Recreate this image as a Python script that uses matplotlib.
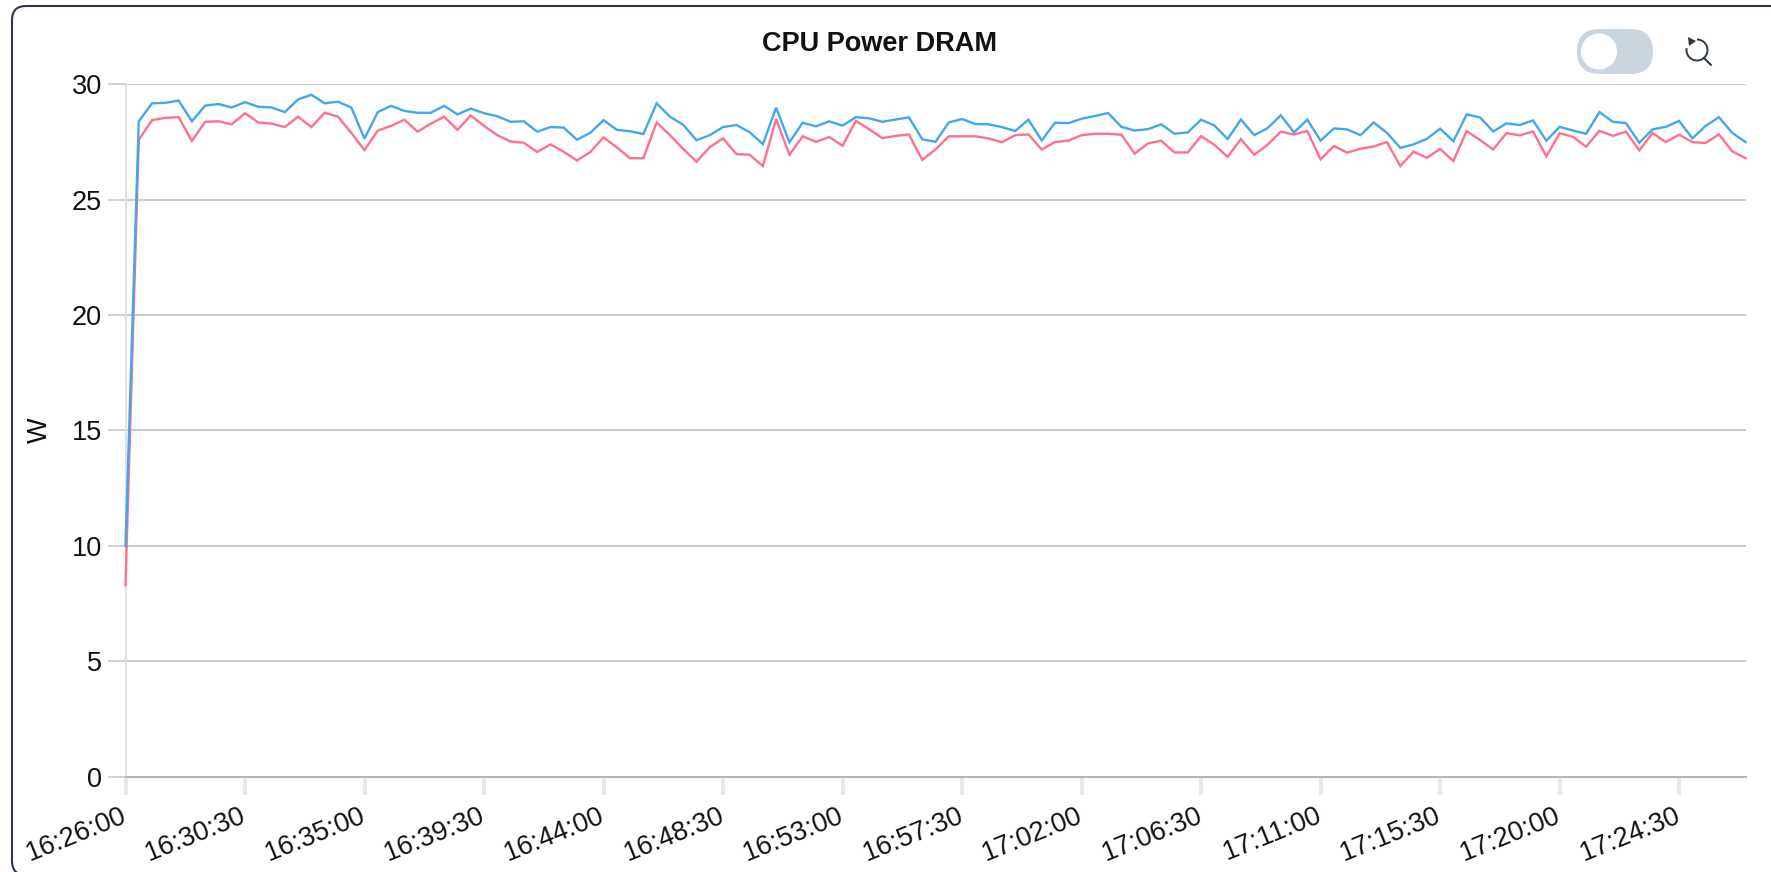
import matplotlib
matplotlib.use("Agg")
import matplotlib.pyplot as plt
from matplotlib.patches import FancyBboxPatch, Circle, Arc, Polygon
from matplotlib.transforms import ScaledTranslation

plt.rcParams['font.family'] = ['Liberation Sans', 'DejaVu Sans']

TITLE = "CPU Power DRAM"
YLABEL = "W"
SAMPLE_SECONDS = 30
TICK_EVERY = 9
tick_labels = ["16:26:00", "16:30:30", "16:35:00", "16:39:30", "16:44:00", "16:48:30", "16:53:00",
               "16:57:30", "17:02:00", "17:06:30", "17:11:00", "17:15:30", "17:20:00", "17:24:30"]
y_ticks = [0, 5, 10, 15, 20, 25, 30]

blue = [10.0, 28.4, 29.18, 29.2, 29.3, 28.4, 29.08, 29.15, 29.0, 29.23, 29.03, 29.0, 28.8, 29.35, 29.55,
        29.18, 29.25, 29.0, 27.65, 28.8, 29.07, 28.85, 28.77, 28.77, 29.07, 28.7, 28.95, 28.75, 28.62, 28.38,
        28.4, 27.95, 28.15, 28.13, 27.6, 27.9, 28.45, 28.03, 27.97, 27.85, 29.18, 28.6, 28.25, 27.58,
        27.8, 28.15, 28.24, 27.93, 27.41, 28.99, 27.49, 28.34, 28.18, 28.4, 28.21, 28.58, 28.53, 28.38, 28.48,
        28.57, 27.62, 27.51, 28.35, 28.5, 28.28, 28.27, 28.15, 27.98, 28.47, 27.57, 28.34, 28.32, 28.51, 28.63,
        28.76, 28.16, 28.0, 28.06, 28.27, 27.86, 27.92, 28.47, 28.22, 27.63, 28.48, 27.8, 28.1, 28.66, 27.92,
        28.47, 27.56, 28.09, 28.05, 27.8, 28.35, 27.9, 27.25, 27.4, 27.64, 28.08, 27.54, 28.7, 28.57, 27.96,
        28.31, 28.24, 28.44, 27.56, 28.16, 28.0, 27.86, 28.8, 28.38, 28.32, 27.47, 28.05, 28.16, 28.42, 27.66,
        28.2, 28.58, 27.9, 27.5]
pink = [8.3, 27.6, 28.45, 28.55, 28.58, 27.55, 28.38, 28.4, 28.27, 28.75, 28.35, 28.3, 28.15, 28.6, 28.15,
        28.77, 28.6, 27.9, 27.15, 28.0, 28.2, 28.47, 27.95, 28.3, 28.6, 28.03, 28.65, 28.2, 27.8, 27.52,
        27.47, 27.07, 27.4, 27.08, 26.7, 27.07, 27.7, 27.27, 26.8, 26.8, 28.35, 27.8, 27.2, 26.65,
        27.28, 27.66, 26.98, 26.95, 26.46, 28.5, 26.95, 27.75, 27.51, 27.72, 27.34, 28.42, 28.06, 27.67, 27.77,
        27.83, 26.73, 27.18, 27.75, 27.75, 27.75, 27.66, 27.49, 27.8, 27.83, 27.18, 27.5, 27.56, 27.8, 27.86,
        27.86, 27.82, 27.0, 27.44, 27.56, 27.05, 27.05, 27.76, 27.38, 26.86, 27.63, 26.95, 27.38, 27.95, 27.83,
        27.98, 26.75, 27.33, 27.04, 27.21, 27.31, 27.5, 26.46, 27.08, 26.82, 27.2, 26.68, 27.98, 27.59, 27.18,
        27.89, 27.79, 27.96, 26.88, 27.88, 27.73, 27.3, 27.99, 27.77, 27.95, 27.14, 27.89, 27.5, 27.82, 27.5,
        27.46, 27.83, 27.1, 26.8]

W, H = 1771, 872
fig = plt.figure(figsize=(W / 100, H / 100), dpi=100, facecolor="white")

bg = fig.add_axes([0, 0, 1, 1], zorder=0)
bg.set_xlim(0, W)
bg.set_ylim(H, 0)
bg.axis("off")
bg.add_patch(FancyBboxPatch((12, 6), 1850, 869, boxstyle="round,pad=0,rounding_size=14",
                            fc="white", ec="#2d3748", lw=1.5, clip_on=True))

left, right, top, bottom = 125.5, 1745.5, 84.4, 776.5
ax = fig.add_axes([left / W, 1 - bottom / H, (right - left) / W, (bottom - top) / H], zorder=1)
ax.patch.set_alpha(0)
x = [i * SAMPLE_SECONDS for i in range(len(blue))]
ax.plot(x, pink, color="#FF6F8E", lw=1.7, solid_joinstyle="miter", clip_on=False, zorder=3)
ax.plot(x, blue, color="#42A7EC", lw=1.7, solid_joinstyle="miter", clip_on=False, zorder=4)
ax.set_xlim(0, x[-1])
ax.set_ylim(0, 30)

ax.set_yticks(y_ticks)
ax.set_yticklabels([str(v) for v in y_ticks], fontsize=19.5, color="#111111")
ax.tick_params(axis="y", length=13, width=1.1, color="#c4c4c4", pad=4)
ax.yaxis.grid(True, color="#bdbdbd", lw=1.1)
ax.set_axisbelow(True)

ax.set_xticks([i * TICK_EVERY * SAMPLE_SECONDS for i in range(len(tick_labels))])
ax.set_xticklabels(tick_labels, fontsize=19.5, rotation=22, ha="right", rotation_mode="anchor", color="#111111")
ax.tick_params(axis="x", length=13, width=2.8, color="#e8e8e8", pad=6)
shift = ScaledTranslation(-3.5 / 72, 0, fig.dpi_scale_trans)
for lab in ax.get_xticklabels():
    lab.set_transform(lab.get_transform() + shift)

for s in ("top", "right"):
    ax.spines[s].set_visible(False)
ax.spines["left"].set_color("#e2e2e2")
ax.spines["left"].set_linewidth(1.5)
ax.spines["bottom"].set_color("#b5b5b5")
ax.spines["bottom"].set_linewidth(1.4)

fig.text(40 / W, 1 - 430 / H, YLABEL, rotation=90, ha="center", va="center", fontsize=19.5, color="#111111")
fig.text(880 / W, 1 - 44 / H, TITLE, ha="center", va="center", fontsize=19.5, fontweight="bold", color="#111111")

bg.add_patch(FancyBboxPatch((1577, 29), 76, 45, boxstyle="round,pad=0,rounding_size=22.5",
                            fc="#cbd5e0", ec="none"))
bg.add_patch(Circle((1599, 51.5), 18, fc="white", ec="none"))
ic = "#2d3748"
bg.add_patch(Arc((1697, 50), 21, 21, angle=0, theta1=-90, theta2=190, color=ic, lw=1.4))
bg.plot([1704, 1711], [58, 65], color=ic, lw=1.5, solid_capstyle="round")
bg.add_patch(Polygon([[1688, 37], [1689, 46], [1696, 41]], closed=True, fc=ic, ec="none"))

fig.savefig("out.png", dpi=100, facecolor="white")
